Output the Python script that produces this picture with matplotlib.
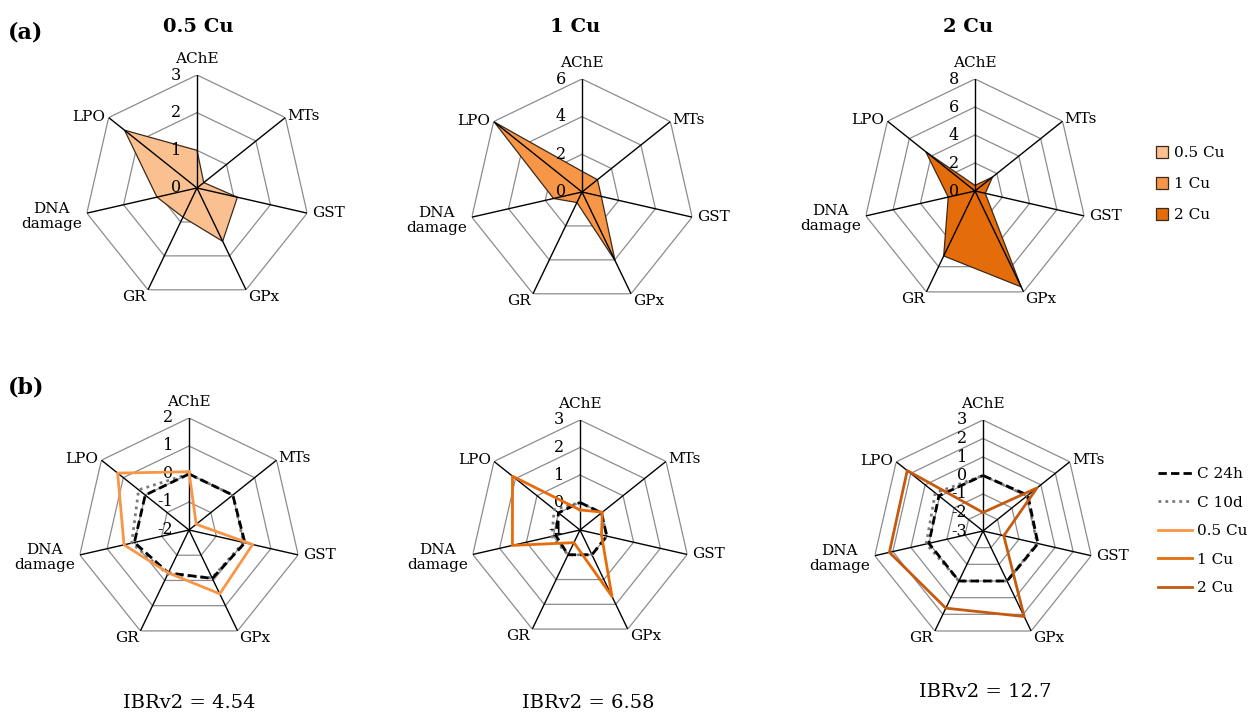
import numpy as np
import matplotlib
matplotlib.use('Agg')
import matplotlib.pyplot as plt
from matplotlib.patches import Patch
from matplotlib.lines import Line2D

plt.rcParams['font.family'] = ['DejaVu Serif']

# ---------------------------------------------------------------------------
# data
categories = ['AChE', 'MTs', 'GST', 'GPx', 'GR', 'DNA\ndamage', 'LPO']

# (a) biomarker responses
a_05cu = [1.0, 0.23, 1.1, 1.57, 0.86, 1.09, 2.46]
a_1cu = [1.1, 1.05, 1.05, 4.05, 0.62, 1.55, 5.97]
a_2cu = [0.4, 1.6, 0.75, 7.6, 5.15, 1.96, 4.5]
a_ticks = [[0, 1, 2, 3], [0, 2, 4, 6], [0, 2, 4, 6, 8]]

# (b) IBRv2 standardised scores
b1_c24h = [0.0, 0.0, 0.05, -0.08, -0.3, 0.0, 0.0]
b1_c10d = [0.0, 0.0, 0.0, -0.1, -0.25, 0.1, 0.3]
b1_05cu = [0.08, -1.67, 0.33, 0.53, -0.3, 0.38, 1.26]

b2_c24h = [0.0, 0.0, 0.0, 0.0, 0.0, -0.1, 0.0]
b2_c10d = [0.0, 0.0, 0.0, 0.0, 0.0, 0.05, 0.2]
b2_1cu = [-0.27, 0.04, -0.2, 1.68, -0.49, 1.52, 2.14]

b3_c24h = [0.0, 0.1, 0.05, 0.0, 0.0, 0.0, 0.05]
b3_c10d = [0.0, 0.05, 0.0, 0.0, 0.0, 0.15, 0.3]
b3_2cu = [-2.0, 0.73, -1.85, 2.13, 1.63, 2.19, 2.24]

b_ticks = [[-2, -1, 0, 1, 2], [-1, 0, 1, 2, 3], [-3, -2, -1, 0, 1, 2, 3]]
ibr_values = ['4.54', '6.58', '12.7']
titles = ['0.5 Cu', '1 Cu', '2 Cu']

fill_colors = ['#FAC090', '#F79646', '#E46C0A']
line_colors = ['#F79646', '#E46C0A', '#C55A11']

W, H = 1253, 714
fig = plt.figure(figsize=(W / 100, H / 100), dpi=100)

# label placement (ha, va, dx, dy in pixels) per category
lab_pos = [('center', 'center', 0, 16), ('left', 'center', 2, 2), ('left', 'center', 5, 0),
           ('left', 'center', 2, -7), ('right', 'center', -2, -7), ('right', 'center', -5, -3),
           ('right', 'center', -3, 1)]

theta = np.linspace(0, 2 * np.pi, len(categories), endpoint=False)
theta_c = np.append(theta, theta[0])


def close(v):
    return list(v) + [v[0]]


def make_radar(cx, cy, rad, ticks):
    ax = fig.add_axes([(cx - rad) / W, 1 - (cy + rad) / H, 2 * rad / W, 2 * rad / H],
                      projection='polar')
    ax.set_theta_zero_location('N')
    ax.set_theta_direction(-1)
    ax.set_ylim(ticks[0], ticks[-1])
    ax.grid(False)
    ax.set_xticks([])
    ax.set_yticks([])
    ax.spines['polar'].set_visible(False)
    for lv in ticks[1:]:
        ax.plot(theta_c, [lv] * len(theta_c), color='#8c8c8c', lw=0.9, zorder=1)
    for t in theta:
        ax.plot([t, t], [ticks[0], ticks[-1]], color='black', lw=1.0, zorder=3)
    for lv in ticks:
        ax.annotate(str(lv), xy=(0, lv), xytext=(-16, 0), textcoords='offset pixels',
                    ha='right', va='center', fontsize=11.5, annotation_clip=False, zorder=5)
    for t, name, (ha, va, dx, dy) in zip(theta, categories, lab_pos):
        ax.annotate(name, xy=(t, ticks[-1]), xytext=(dx, dy), textcoords='offset pixels',
                    ha=ha, va=va, fontsize=11, multialignment='center',
                    linespacing=1.1, annotation_clip=False)
    return ax


# ---- row (a)
a_centers = [(197, 188, 113), (582, 192, 113), (975, 191, 112)]
for (cx, cy, rad), vals, tk, col, ttl in zip(a_centers, [a_05cu, a_1cu, a_2cu], a_ticks,
                                              fill_colors, titles):
    ax = make_radar(cx, cy, rad, tk)
    ax.fill(theta_c, close(vals), facecolor=col, edgecolor='#3b2a1c', lw=0.9, zorder=2)
fig.text(198 / W, 1 - 27 / H, titles[0], ha='center', va='center', fontsize=14, fontweight='bold')
fig.text(575 / W, 1 - 27 / H, titles[1], ha='center', va='center', fontsize=14, fontweight='bold')
fig.text(968 / W, 1 - 27 / H, titles[2], ha='center', va='center', fontsize=14, fontweight='bold')
fig.text(8 / W, 1 - 33 / H, '(a)', ha='left', va='center', fontsize=16, fontweight='bold')

a_handles = [Patch(facecolor=c, edgecolor='#3b2a1c', lw=0.9) for c in fill_colors]
fig.legend(a_handles, titles, loc='upper left', bbox_to_anchor=(1156 / W, 1 - 146 / H),
           frameon=False, fontsize=11, handlelength=0.8, handleheight=0.8,
           handletextpad=0.4, labelspacing=1.1, borderpad=0, borderaxespad=0)

# ---- row (b)
b_centers = [(189, 530, 112), (580, 530, 110), (983, 531, 111)]
b_c24h = [b1_c24h, b2_c24h, b3_c24h]
b_c10d = [b1_c10d, b2_c10d, b3_c10d]
b_cu = [b1_05cu, b2_1cu, b3_2cu]
ibr_pos = [(189, 703), (588, 703), (985, 692)]
for i, (cx, cy, rad) in enumerate(b_centers):
    ax = make_radar(cx, cy, rad, b_ticks[i])
    ax.plot(theta_c, close(b_c10d[i]), color='#7a7a7a', lw=2.0, ls=(0, (1, 1.5)), zorder=4)
    ax.plot(theta_c, close(b_c24h[i]), color='black', lw=2.0, ls=(0, (3, 1.5)), zorder=4)
    ax.plot(theta_c, close(b_cu[i]), color=line_colors[i], lw=2.0, zorder=5)
    fig.text(ibr_pos[i][0] / W, 1 - ibr_pos[i][1] / H, 'IBRv2 = ' + ibr_values[i],
             ha='center', va='center', fontsize=14)
fig.text(8 / W, 1 - 388 / H, '(b)', ha='left', va='center', fontsize=16, fontweight='bold')

b_handles = [Line2D([], [], color='black', lw=2.0, ls=(0, (3, 1.5))),
             Line2D([], [], color='#7a7a7a', lw=2.0, ls=(0, (1, 1.5))),
             Line2D([], [], color=line_colors[0], lw=2.0),
             Line2D([], [], color=line_colors[1], lw=2.0),
             Line2D([], [], color=line_colors[2], lw=2.0)]
fig.legend(b_handles, ['C 24h', 'C 10d'] + titles, loc='upper left',
           bbox_to_anchor=(1158 / W, 1 - 467 / H), frameon=False, fontsize=11,
           handlelength=2.2, handletextpad=0.35, labelspacing=0.95, borderpad=0,
           borderaxespad=0)

fig.savefig('out.png', dpi=100)
